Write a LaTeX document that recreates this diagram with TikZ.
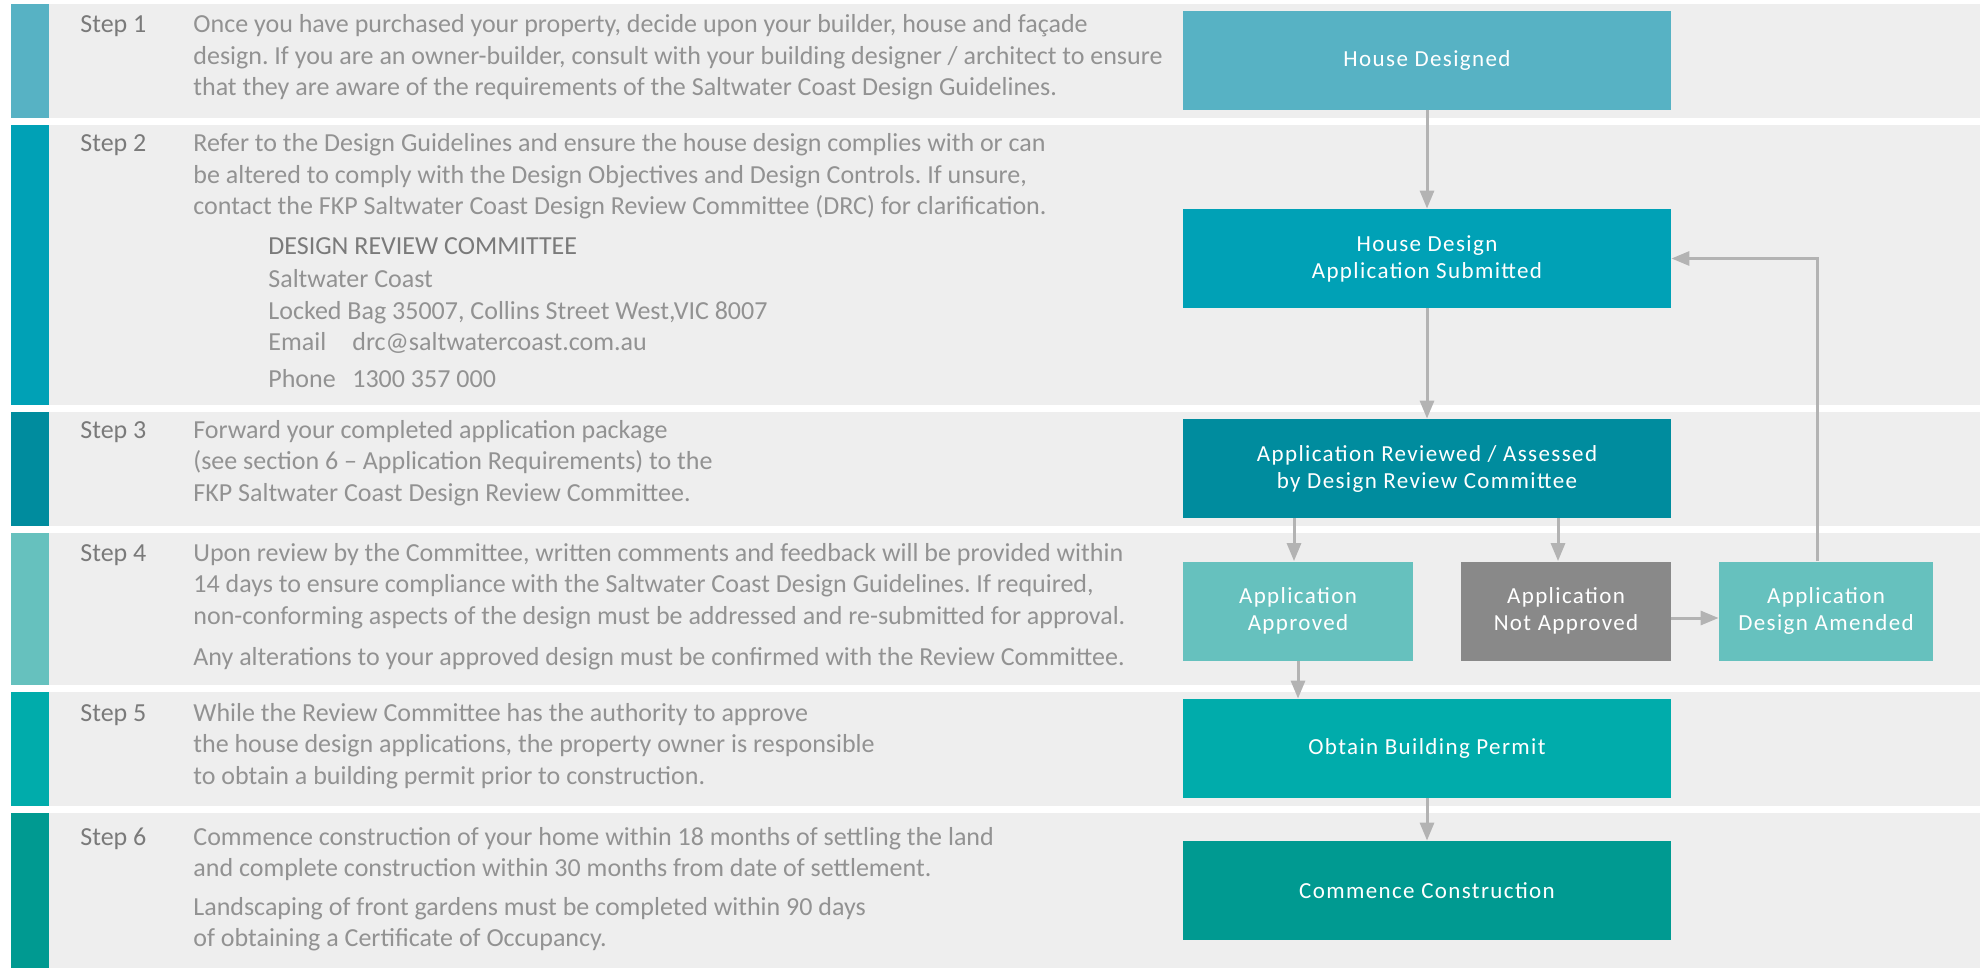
\documentclass[tikz,border=0pt]{standalone}
\usepackage{fontspec}
\setmainfont{Carlito}
\newfontfamily\boxfont[LetterSpace=6]{Carlito}
\usetikzlibrary{arrows.meta}
\frenchspacing
\definecolor{bandgray}{HTML}{EEEEEE}
\definecolor{stepone}{HTML}{57B2C4}
\definecolor{steptwo}{HTML}{00A1B6}
\definecolor{stepthree}{HTML}{008C9E}
\definecolor{stepfour}{HTML}{66C1BE}
\definecolor{stepfive}{HTML}{00ACAB}
\definecolor{stepsix}{HTML}{009A91}
\definecolor{notok}{HTML}{898989}
\definecolor{arrowgray}{HTML}{B3B3B3}
\definecolor{labelgray}{HTML}{7A7A7A}
\definecolor{bodygray}{HTML}{929292}
% lines of a paragraph, hung from the first baseline
\newcommand{\paralines}[1]{\begin{tabular}[t]{@{}l@{}}#1\end{tabular}}
\begin{document}
\begin{tikzpicture}[x=0.5pt,y=-0.5pt,>={Triangle[length=9pt,width=7pt]},
  flowbox/.style={minimum width=244pt,minimum height=49.5pt,inner sep=0pt,
    text=white,align=center,font=\boxfont\fontsize{11.5}{13.5}\selectfont},
  flowarrow/.style={->,draw=arrowgray,line width=1.5pt},
  steplabel/.style={anchor=base west,inner sep=0pt,text=labelgray,
    font=\fontsize{13}{15.75}\selectfont},
  bodytext/.style={anchor=base west,inner sep=0pt,text=bodygray,
    font=\fontsize{13}{15.75}\selectfont}]
\useasboundingbox (0,0) rectangle (1980,968);
% bands
\fill[bandgray] (11,4) rectangle (1980,118);
\fill[bandgray] (11,125) rectangle (1980,405);
\fill[bandgray] (11,412) rectangle (1980,526);
\fill[bandgray] (11,533) rectangle (1980,685);
\fill[bandgray] (11,692) rectangle (1980,806);
\fill[bandgray] (11,813) rectangle (1980,968);
\fill[stepone] (11,4) rectangle (49,118);
\fill[steptwo] (11,125) rectangle (49,405);
\fill[stepthree] (11,412) rectangle (49,526);
\fill[stepfour] (11,533) rectangle (49,685);
\fill[stepfive] (11,692) rectangle (49,806);
\fill[stepsix] (11,813) rectangle (49,968);
% step texts
\node[steplabel] (stepA) at (80,33) {Step 1};
\node[bodytext] (textA) at (193,33) {\paralines{Once you have purchased your property, decide upon your builder, house and façade\\
  design. If you are an owner-builder, consult with your building designer / architect to ensure\\
  that they are aware of the requirements of the Saltwater Coast Design Guidelines.}};
\node[steplabel] (stepB) at (80,152) {Step 2};
\node[bodytext] (textB) at (193,152) {\paralines{Refer to the Design Guidelines and ensure the house design complies with or can\\
  be altered to comply with the Design Objectives and Design Controls. If unsure,\\
  contact the FKP Saltwater Coast Design Review Committee (DRC) for clarification.}};
\node[steplabel] (drc) at (268,255) {DESIGN REVIEW COMMITTEE};
\node[bodytext,font=\fontsize{13}{16}\selectfont] (address) at (268,287) {\paralines{Saltwater Coast\\
  Locked Bag 35007, Collins Street West,VIC 8007\\
  \makebox[42pt][l]{Email}drc@saltwatercoast.com.au\\[2pt]
  \makebox[42pt][l]{Phone}1300 357 000}};
\node[steplabel] (stepC) at (80,438) {Step 3};
\node[bodytext] (textC) at (193,438) {\paralines{Forward your completed application package\\
  (see section 6 -- Application Requirements) to the\\
  FKP Saltwater Coast Design Review Committee.}};
\node[steplabel] (stepD) at (80,561) {Step 4};
\node[bodytext] (textD) at (193,561) {\paralines{Upon review by the Committee, written comments and feedback will be provided within\\
  14 days to ensure compliance with the Saltwater Coast Design Guidelines. If required,\\
  non-conforming aspects of the design must be addressed and re-submitted for approval.\\[4.75pt]
  Any alterations to your approved design must be confirmed with the Review Committee.}};
\node[steplabel] (stepE) at (80,721) {Step 5};
\node[bodytext] (textE) at (193,721) {\paralines{While the Review Committee has the authority to approve\\
  the house design applications, the property owner is responsible\\
  to obtain a building permit prior to construction.}};
\node[steplabel] (stepF) at (80,845) {Step 6};
\node[bodytext] (textF) at (193,845) {\paralines{Commence construction of your home within 18 months of settling the land\\
  and complete construction within 30 months from date of settlement.\\[3.5pt]
  Landscaping of front gardens must be completed within 90 days\\
  of obtaining a Certificate of Occupancy.}};
% flow chart
\node[flowbox,fill=stepone] (designed) at (1427,60.5) {House Designed};
\node[flowbox,fill=steptwo] (submitted) at (1427,258.5) {House Design\\Application Submitted};
\node[flowbox,fill=stepthree] (reviewed) at (1427,468.5) {Application Reviewed / Assessed\\by Design Review Committee};
\node[flowbox,fill=stepfour,minimum width=115pt] (approved) at (1298,611) {Application\\Approved};
\node[flowbox,fill=notok,minimum width=105pt] (notapproved) at (1566,611) {Application\\Not Approved};
\node[flowbox,fill=stepfour,minimum width=107pt] (amended) at (1826,611) {Application\\Design Amended};
\node[flowbox,fill=stepfive] (permit) at (1427,748.5) {Obtain Building Permit};
\node[flowbox,fill=stepsix] (construct) at (1427,890.5) {Commence Construction};
\draw[flowarrow] (designed) -- (submitted);
\draw[flowarrow] (submitted) -- (reviewed);
\draw[flowarrow] ([xshift=-2pt]reviewed.south -| approved.north) -- ([xshift=-2pt]approved.north);
\draw[flowarrow] ([xshift=-4pt]reviewed.south -| notapproved.north) -- ([xshift=-4pt]notapproved.north);
\draw[flowarrow] ([yshift=-3.5pt]notapproved.east) -- ([yshift=-3.5pt]amended.west);
\draw[flowarrow] ([xshift=-4.5pt]amended.north) |- (submitted.east);
\draw[flowarrow] (approved.south) -- (approved.south |- permit.north);
\draw[flowarrow] (permit) -- (construct);
\end{tikzpicture}
\end{document}
